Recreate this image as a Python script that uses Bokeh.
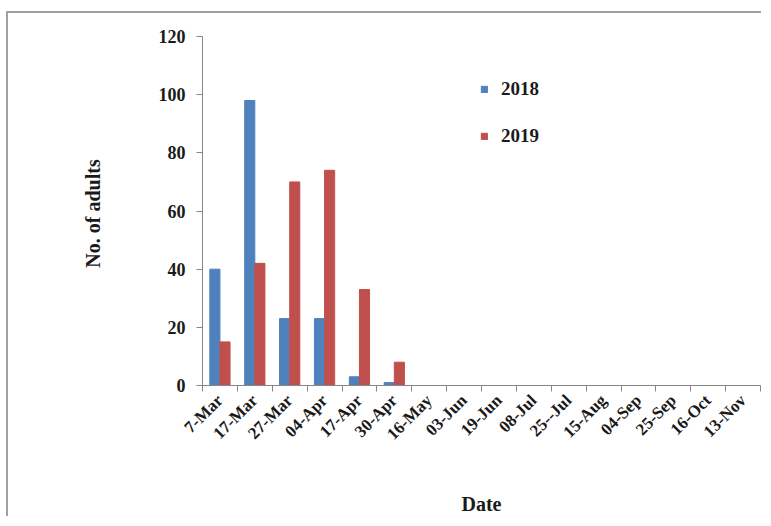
import numpy as np
from math import pi
from bokeh.plotting import figure
from bokeh.models import ColumnDataSource, FixedTicker, Range1d, Legend, LegendItem
from bokeh.embed import file_html
from bokeh.resources import INLINE

categories = ["7-Mar", "17-Mar", "27-Mar", "04-Apr", "17-Apr", "30-Apr", "16-May",
              "03-Jun", "19-Jun", "08-Jul", "25--Jul", "15-Aug", "04-Sep", "25-Sep",
              "16-Oct", "13-Nov"]
y2018 = [40, 98, 23, 23, 3, 1, 0, 0, 0, 0, 0, 0, 0, 0, 0, 0]
y2019 = [15, 42, 70, 74, 33, 8, 0, 0, 0, 0, 0, 0, 0, 0, 0, 0]
series_names = ["2018", "2019"]
colors = ["#4F81BD", "#C0504D"]
y_ticks = [0, 20, 40, 60, 80, 100, 120]

n = len(categories)
centers = np.arange(n) + 0.5
bw = 0.29

src = ColumnDataSource(dict(x1=centers - bw / 2, x2=centers + bw / 2, a=y2018, b=y2019))

FONT = "Liberation Serif"
p = figure(width=755, height=505, output_backend="svg", toolbar_location=None,
           x_range=Range1d(0, n), y_range=Range1d(0, 120),
           min_border_left=194, min_border_right=3, min_border_top=23, min_border_bottom=124)
p.styles = {"border-left": "2px solid #a0a0a0", "border-top": "2px solid #a0a0a0",
            "border-right": "0px none", "border-bottom": "0px none",
            "margin-left": "6px", "margin-top": "11px"}
p.outline_line_color = None
p.grid.visible = False

r1 = p.vbar(x="x1", top="a", width=bw, source=src, fill_color=colors[0], line_color=colors[0])
r2 = p.vbar(x="x2", top="b", width=bw, source=src, fill_color=colors[1], line_color=colors[1])

# x axis
xa = p.xaxis[0]
xa.ticker = FixedTicker(ticks=list(centers), minor_ticks=list(range(n + 1)))
xa.major_label_overrides = {float(c): lab for c, lab in zip(centers, categories)}
xa.major_label_orientation = pi / 4
xa.major_tick_line_color = None
xa.minor_tick_line_color = "#868686"
xa.minor_tick_out = 6
xa.minor_tick_in = 0
xa.axis_line_color = "#868686"
xa.major_label_text_font = FONT
xa.major_label_text_font_style = "bold"
xa.major_label_text_font_size = "17px"
xa.major_label_text_color = "#1a1a1a"
xa.major_label_standoff = 6
xa.axis_label = "Date"
xa.axis_label_text_font = FONT
xa.axis_label_text_font_style = "bold"
xa.axis_label_text_font_size = "20px"
xa.axis_label_text_color = "#1a1a1a"
xa.axis_label_standoff = 40

ya = p.yaxis[0]
ya.ticker = FixedTicker(ticks=y_ticks)
ya.minor_tick_line_color = None
ya.major_tick_line_color = "#868686"
ya.major_tick_out = 6
ya.major_tick_in = 0
ya.axis_line_color = "#868686"
ya.major_label_text_font = FONT
ya.major_label_text_font_style = "bold"
ya.major_label_text_font_size = "18px"
ya.major_label_text_color = "#1a1a1a"
ya.major_label_standoff = 11
ya.axis_label = "No. of  adults"
ya.axis_label_text_font = FONT
ya.axis_label_text_font_style = "bold"
ya.axis_label_text_font_size = "20px"
ya.axis_label_text_color = "#1a1a1a"
ya.axis_label_standoff = 52

legend = Legend(items=[LegendItem(label=series_names[0], renderers=[r1]),
                       LegendItem(label=series_names[1], renderers=[r2])],
                location=(278, 238), orientation="vertical")
legend.label_text_font = FONT
legend.label_text_font_style = "bold"
legend.label_text_font_size = "19px"
legend.label_text_color = "#1a1a1a"
legend.glyph_width = 8
legend.glyph_height = 8
legend.label_height = 20
legend.spacing = 25
legend.label_standoff = 13
legend.padding = 0
legend.margin = 0
legend.border_line_color = None
legend.background_fill_alpha = 0
p.add_layout(legend, "center")

open("out.html", "w").write(file_html(p, INLINE))
